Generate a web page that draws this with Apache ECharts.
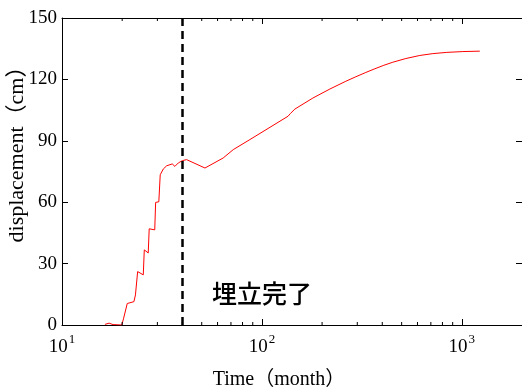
<!DOCTYPE html>
<html><head><meta charset="utf-8">
<script src="https://cdn.jsdelivr.net/npm/echarts@6/dist/echarts.min.js"></script>
<style>html,body{margin:0;padding:0;background:#fff}#c{width:522px;height:390px}</style>
</head><body><div id="c"></div>
<script>
// ---- data ----
const time = [16.4, 17.2, 18.0, 19.9, 20.3, 21.2, 21.5, 22.9, 23.3, 23.6, 23.9, 25.5, 25.8, 27.0, 27.3, 29.1, 29.4, 30.5, 31.0, 32.1, 33.4, 35.6, 36.7, 38.2, 40.0, 42.0, 51.9, 64.0, 71.9, 87.1, 135.1, 138.7, 146.2, 179.9, 218.8, 263.0, 295.1, 331.1, 367.3, 407.4, 451.9, 524.8, 616.6, 716.1, 841.4, 1011.6, 1230.3];
const disp = [0.3, 0.9, 0.2, 0, 3.0, 10.5, 11.0, 11.4, 14.7, 14.8, 26.1, 24.5, 36.7, 35.2, 47.0, 46.5, 59.9, 60.2, 73.4, 76.2, 77.8, 78.7, 77.5, 79.2, 80.3, 80.8, 76.7, 81.6, 85.7, 90.6, 102.0, 103.3, 105.5, 110.9, 115.3, 119.1, 121.3, 123.4, 125.2, 126.9, 128.4, 130.2, 131.7, 132.6, 133.2, 133.6, 133.8];
const xMin = 10, xMax = 2000;
const xMinorTicks = [20, 30, 40, 50, 60, 70, 80, 90, 200, 300, 400, 500, 600, 700, 800, 900];
const yMin = 0, yMax = 150, yStep = 30;
const fillEndTime = 40;
const xTitle = 'Time（month）';
const yTitle = 'displacement（cm）';
const noteText = '埋立完了';

const serif = '"Liberation Serif", "Times New Roman", "Noto Sans CJK JP", serif';
const chart = echarts.init(document.getElementById('c'), null, {renderer: 'canvas'});

const expFmt = v => {
  const e = Math.round(Math.log10(v));
  if (Math.abs(Math.pow(10, e) - v) > 1e-6 * v) return '';
  return '{b|10}{s|' + e + '}';
};
const axisLineStyle = {color: '#000', width: 1};

chart.setOption({
  animation: false,
  backgroundColor: '#fff',
  grid: {left: 62, right: 0, top: 18, bottom: 65, containLabel: false, outerBoundsMode: 'none'},
  xAxis: [{
    type: 'log', logBase: 10, min: xMin, max: xMax, position: 'bottom',
    axisLine: {show: true, onZero: false, lineStyle: axisLineStyle},
    axisTick: {show: true, inside: true, length: 6, lineStyle: axisLineStyle},
    splitLine: {show: false},
    axisLabel: {
      formatter: expFmt, margin: 8, color: '#000',
      rich: {
        b: {fontSize: 19, fontFamily: serif, color: '#000', verticalAlign: 'bottom', lineHeight: 24},
        s: {fontSize: 13, fontFamily: serif, color: '#000', verticalAlign: 'top', lineHeight: 24, padding: [0, 0, 0, 1]}
      }
    }
  }, {
    type: 'log', logBase: 10, min: xMin, max: xMax, position: 'top',
    axisLine: {show: true, onZero: false, lineStyle: axisLineStyle},
    axisTick: {show: true, inside: true, length: 6, lineStyle: axisLineStyle},
    axisLabel: {show: false}, splitLine: {show: false}
  }],
  yAxis: [{
    type: 'value', min: yMin, max: yMax, interval: yStep, position: 'left',
    axisLine: {show: true, onZero: false, lineStyle: axisLineStyle},
    axisTick: {show: true, inside: true, length: 6, lineStyle: axisLineStyle},
    splitLine: {show: false},
    axisLabel: {fontSize: 19, fontFamily: serif, color: '#000', margin: 5}
  }, {
    type: 'value', min: yMin, max: yMax, interval: yStep, position: 'right',
    axisLine: {show: true, onZero: false, lineStyle: axisLineStyle},
    axisTick: {show: true, inside: true, length: 6, lineStyle: axisLineStyle},
    axisLabel: {show: false}, splitLine: {show: false}
  }],
  series: [{
    type: 'line', xAxisIndex: 0, yAxisIndex: 0,
    data: time.map((t, i) => [t, disp[i]]),
    showSymbol: false, symbol: 'none',
    lineStyle: {color: '#ff0000', width: 1},
    z: 3,
    markLine: {
      silent: true, symbol: 'none', label: {show: false},
      lineStyle: {color: '#000', width: 2.5, type: [8, 5]},
      data: [{xAxis: fillEndTime}]
    }
  }, {
    type: 'custom', xAxisIndex: 0, yAxisIndex: 0, silent: true, z: 4,
    data: xMinorTicks.map(v => [v, yMin]),
    renderItem: (params, api) => {
      const t = api.value(0);
      const b = api.coord([t, yMin]);
      const tp = api.coord([t, yMax]);
      return {type: 'group', children: [
        {type: 'line', shape: {x1: b[0], y1: b[1], x2: b[0], y2: b[1] - 3}, style: {stroke: '#000', lineWidth: 1}},
        {type: 'line', shape: {x1: tp[0], y1: tp[1], x2: tp[0], y2: tp[1] + 3}, style: {stroke: '#000', lineWidth: 1}}
      ]};
    }
  }],
  graphic: [
    {type: 'text', x: 17, y: 149, rotation: Math.PI / 2,
      style: {text: yTitle, fontSize: 22, fontFamily: serif, fill: '#000', align: 'center', verticalAlign: 'middle'}},
    {type: 'text', x: 279, y: 380,
      style: {text: xTitle, fontSize: 20, fontFamily: serif, fill: '#000', align: 'center', verticalAlign: 'middle'}},
    {type: 'text', x: 212, y: 293,
      style: {text: noteText, fontSize: 25, fontFamily: '"Noto Sans CJK JP", sans-serif', fontWeight: 500, fill: '#000', align: 'left', verticalAlign: 'middle'}}
  ]
});
</script>
</body></html>
